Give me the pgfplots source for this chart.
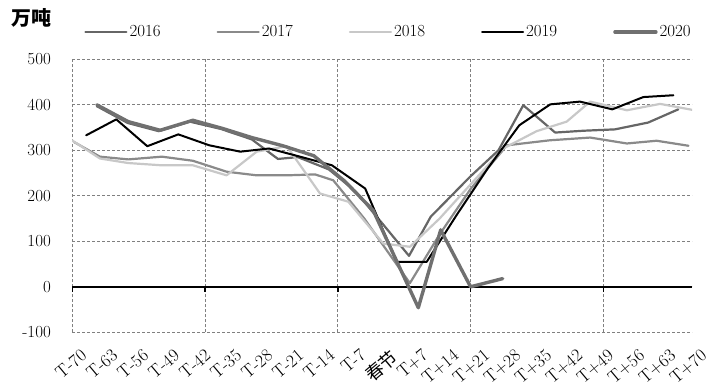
\documentclass[border=0pt]{standalone}
\usepackage{fontspec}
\usepackage{pgfplots}
\pgfplotsset{compat=1.18}
\newfontfamily\cjk{Noto Sans CJK SC}
\definecolor{c16}{HTML}{666666}
\definecolor{c17}{HTML}{8A8A8A}
\definecolor{c18}{HTML}{C8C8C8}
\definecolor{c20}{HTML}{707070}
\definecolor{gridc}{HTML}{808080}
\begin{document}
\begin{tikzpicture}
\useasboundingbox (0,0) rectangle (710bp,390bp);
\begin{axis}[
  at={(72bp,57.7bp)}, anchor=south west,
  scale only axis, width=620bp, height=273bp,
  xmin=-70, xmax=70, ymin=-100, ymax=500,
  axis line style={draw=none},
  tick style={draw=none},
  major tick length=0pt,
  xtick={-70,-63,-56,-49,-42,-35,-28,-21,-14,-7,0,7,14,21,28,35,42,49,56,63,70},
  xticklabels={T-70,T-63,T-56,T-49,T-42,T-35,T-28,T-21,T-14,T-7,{\cjk 春节},T+7,T+14,T+21,T+28,T+35,T+42,T+49,T+56,T+63,T+70},
  xticklabel style={rotate=40, anchor=north east, inner sep=0pt, xshift=-4bp, yshift=-17bp, font=\fontsize{18}{20}\selectfont},
  ytick={-100,0,100,200,300,400,500},
  yticklabels={-100,0,100,200,300,400,500},
  yticklabel style={anchor=east, inner sep=0pt, xshift=-21bp, font=\fontsize{17}{20}\selectfont},
  ymajorgrids,
  major grid style={dash pattern=on 3bp off 2bp, gridc, line width=0.7bp},
  extra x ticks={-70,-40,-10,20,50},
  extra x tick labels={},
  extra x tick style={grid=major},
  no markers,
  every axis plot/.append style={line join=round, line cap=round},
  legend columns=5,
  legend style={draw=none, fill=none, at={(0.5105,1.1)}, anchor=center,
    font=\fontsize{17}{20}\selectfont, inner sep=0pt,
    /tikz/every even column/.append style={column sep=54bp}},
  legend image code/.code={\draw[#1] (0bp,0bp) -- (41bp,0bp);},
]
\draw[black, line width=2.4bp] (axis cs:-70,0) -- (axis cs:70,0);
\pgfplotsinvokeforeach{-70,-40,-10,20,50}{\draw[black, line width=1.6bp] (axis cs:#1,0) ++(0bp,1bp) -- ++(0bp,-6bp);}
\addplot[c16, line width=2.2bp] coordinates {
(-64.4,397) (-57.4,360) (-50.4,342) (-43.4,363) (-36.4,347) (-29.4,324) (-23.5,281) (-19,285) (-12,258) (-6,210) (0,140) (6.1,68) (11,154) (19.9,242) (26.3,300) (31.9,399) (39.1,339) (45.5,343) (52.6,346) (60.1,361) (66.9,390)};
\addlegendentry{2016}
\addplot[c17, line width=2.2bp] coordinates {
(-69.5,318) (-63.7,286) (-57.3,280) (-49.7,286) (-42.7,277) (-35.1,253) (-28.3,245) (-21.5,245) (-15.1,247) (-11,234) (-4,150) (6.3,8) (13,115) (20,215) (28.2,311) (37.9,322) (47,328) (55.3,315) (62,321) (69.2,310)};
\addlegendentry{2017}
\addplot[c18, line width=2.2bp] coordinates {
(-70,322) (-63.7,282) (-57.3,272) (-49.7,267) (-42.7,267) (-35.1,245) (-28.3,297) (-21.5,309) (-14,205) (-7.6,187) (0.3,95) (6.3,88) (13,150) (20,225) (27.4,304) (34.9,342) (41.7,363) (47,407) (55.3,388) (62.8,402) (70,389)};
\addlegendentry{2018}
\addplot[black, line width=2bp] coordinates {
(-66.8,333) (-60,368) (-53,309) (-46,335) (-39,311) (-32,297) (-25.5,304) (-18.5,286) (-11.3,267) (-3.8,216) (3.3,55) (10.1,55) (17,160) (24,262) (31,355) (38,401) (44.7,407) (52,390) (59,417) (65.8,421)};
\addlegendentry{2019}
\addplot[c20, line width=3.4bp] coordinates {
(-64.4,400) (-57.3,363) (-50.1,344) (-42.7,366) (-36,348) (-29.4,328) (-22.4,310) (-15.4,288) (-8.4,232) (-2,168) (8.2,-46) (13.25,125) (20,0) (27.25,18)};
\addlegendentry{2020}
\end{axis}
\node[font=\cjk\bfseries\fontsize{20}{22}\selectfont] at (31bp,372bp) {万吨};
\end{tikzpicture}
\end{document}
